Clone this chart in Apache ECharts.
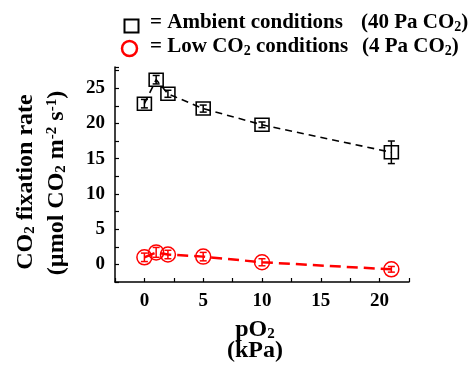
<!DOCTYPE html>
<html><head><meta charset="utf-8">
<script src="https://cdn.jsdelivr.net/npm/echarts@6/dist/echarts.min.js"></script>
<style>html,body{margin:0;padding:0;background:#fff}#c{width:471px;height:366px}</style>
</head><body><div id="c"></div>
<script>
const pO2 = [0, 1, 2, 5, 10, 21];
const ambient = [22.8, 26.2, 24.2, 22.1, 19.8, 15.9];
const ambientErr = [0.6, 0.6, 0.5, 0.5, 0.4, 1.6];
const lowCO2 = [1.0, 1.7, 1.4, 1.1, 0.3, -0.7];
const lowErr = [0.6, 0.7, 0.6, 0.6, 0.5, 0.4];
const xTicks = [0, 5, 10, 15, 20];
const yTicks = [0, 5, 10, 15, 20, 25];

const FONT = '"Liberation Serif","Times New Roman",serif';
const chart = echarts.init(document.getElementById('c'));

function errData(y, e) { return pO2.map((x, i) => [x, y[i] - e[i], y[i] + e[i]]); }
function errRender(color, w) {
  return function (params, api) {
    const x = api.value(0);
    const a = api.coord([x, api.value(1)]);
    const b = api.coord([x, api.value(2)]);
    const st = { stroke: color, lineWidth: w };
    return { type: 'group', children: [
      { type: 'line', shape: { x1: a[0], y1: a[1], x2: b[0], y2: b[1] }, style: st },
      { type: 'line', shape: { x1: a[0] - 3.5, y1: a[1], x2: a[0] + 3.5, y2: a[1] }, style: st },
      { type: 'line', shape: { x1: b[0] - 3.5, y1: b[1], x2: b[0] + 3.5, y2: b[1] }, style: st }
    ]};
  };
}

const richBase = {
  n: { fontFamily: FONT, fontWeight: 'bold', fontSize: 24, color: '#000' },
  sub: { fontFamily: FONT, fontWeight: 'bold', fontSize: 15, color: '#000', verticalAlign: 'bottom', padding: [9, 0, 0, 0] },
  sup: { fontFamily: FONT, fontWeight: 'bold', fontSize: 15, color: '#000', verticalAlign: 'top', padding: [0, 0, 9, 0] }
};
const richLeg = {
  n: { fontFamily: FONT, fontWeight: 'bold', fontSize: 21, color: '#000' },
  sub: { fontFamily: FONT, fontWeight: 'bold', fontSize: 14, color: '#000', verticalAlign: 'bottom', padding: [8, 0, 0, 0] }
};

chart.setOption({
  animation: false,
  grid: { left: 115, top: 67, right: 62, bottom: 84 },
  xAxis: {
    type: 'value', min: -2.5, max: 22.5, interval: 2.5,
    axisLine: { onZero: false, lineStyle: { color: '#000', width: 1.5 } },
    axisTick: { inside: true, length: 4, lineStyle: { color: '#000', width: 1.2 } },
    splitLine: { show: false },
    axisLabel: {
      margin: 10, color: '#000', fontFamily: FONT, fontWeight: 'bold', fontSize: 19,
      formatter: v => xTicks.includes(v) ? String(v) : ''
    }
  },
  yAxis: {
    type: 'value', min: -2.5, max: 28, interval: 2.5,
    axisLine: { show: true, onZero: false, lineStyle: { color: '#000', width: 1.5 } },
    axisTick: { show: true, inside: true, length: 4, lineStyle: { color: '#000', width: 1.2 } },
    splitLine: { show: false },
    axisLabel: {
      margin: 10, color: '#000', fontFamily: FONT, fontWeight: 'bold', fontSize: 19,
      formatter: v => yTicks.includes(v) ? String(v) : ''
    }
  },
  graphic: [
    { type: 'rect', left: 122, top: 17, shape: { width: 14, height: 13 }, style: { fill: 'none', stroke: '#000', lineWidth: 2 } },
    { type: 'circle', shape: { cx: 129.5, cy: 48.5, r: 7.5 }, style: { fill: 'none', stroke: '#ff0000', lineWidth: 2.5 } },
    { type: 'text', x: 150, y: 23, style: { text: '{n|= Ambient conditions}', rich: richLeg, verticalAlign: 'middle' } },
    { type: 'text', x: 361, y: 23, style: { text: '{n|(40 Pa CO}{sub|2}{n|)}', rich: richLeg, verticalAlign: 'middle' } },
    { type: 'text', x: 150, y: 47, style: { text: '{n|= Low CO}{sub|2}{n| conditions}', rich: richLeg, verticalAlign: 'middle' } },
    { type: 'text', x: 362, y: 47, style: { text: '{n|(4 Pa CO}{sub|2}{n|)}', rich: richLeg, verticalAlign: 'middle' } },
    { type: 'text', x: 26, y: 182, rotation: Math.PI / 2, style: { text: '{n|CO}{sub|2}{n| fixation rate}', rich: richBase, align: 'center', verticalAlign: 'middle' } },
    { type: 'text', x: 57, y: 183, rotation: Math.PI / 2, style: { text: '{n|(µmol CO}{sub|2}{n| m}{sup|-2}{n| s}{sup|-1}{n|)}', rich: richBase, align: 'center', verticalAlign: 'middle' } },
    { type: 'text', x: 255, y: 330, style: { text: '{n|pO}{sub|2}', rich: richBase, align: 'center', verticalAlign: 'middle' } },
    { type: 'text', x: 255, y: 351, style: { text: '{n|(kPa)}', rich: richBase, align: 'center', verticalAlign: 'middle' } }
  ],
  series: [
    {
      type: 'line', data: pO2.map((x, i) => [x, ambient[i]]),
      symbol: 'rect', symbolSize: [14, 13],
      lineStyle: { color: '#000', width: 1.6, type: [7, 5] },
      itemStyle: { color: 'rgba(255,255,255,0)', borderColor: '#000', borderWidth: 1.5 },
      z: 3
    },
    { type: 'custom', data: errData(ambient, ambientErr), renderItem: errRender('#000', 1.5), z: 4 },
    {
      type: 'line', data: pO2.map((x, i) => [x, lowCO2[i]]),
      symbol: 'circle', symbolSize: 15,
      lineStyle: { color: '#ff0000', width: 2.5, type: [11, 6] },
      itemStyle: { color: 'rgba(255,255,255,0)', borderColor: '#ff0000', borderWidth: 1.5 },
      z: 3
    },
    { type: 'custom', data: errData(lowCO2, lowErr), renderItem: errRender('#ff0000', 1.5), z: 4 }
  ]
});
</script></body></html>
